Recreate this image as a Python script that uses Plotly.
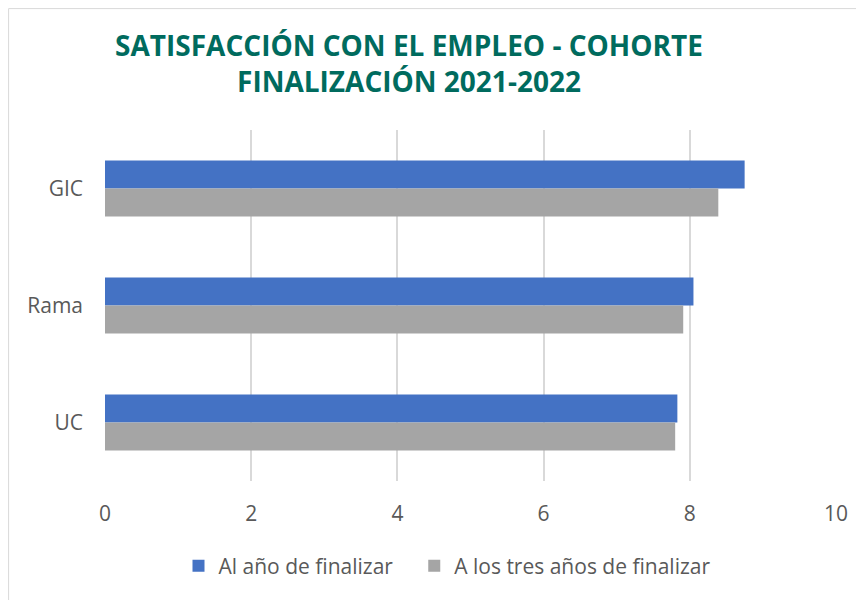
import plotly.graph_objects as go

categories = ["GIC", "Rama", "UC"]
al_anio = [8.75, 8.05, 7.83]
tres_anios = [8.39, 7.91, 7.80]
series_names = ["Al año de finalizar", "A los tres años de finalizar"]
x_ticks = [0, 2, 4, 6, 8, 10]

# page body has an 8px margin; work in screen pixels and offset
OFF = 8
W, H = 864 - OFF, 600 - OFF
L, R, T, B = 105 - OFF, 28, 130 - OFF, 119
pw, ph = W - L - R, H - T - B

def px_x(p):
    return (p - OFF - L) / pw

def px_y(p):
    return (H - B - (p - OFF)) / ph

fig = go.Figure()
fig.add_trace(go.Bar(y=categories, x=al_anio, orientation="h",
                     name=series_names[0] + "\u00a0" * 3,
                     marker=dict(color="#4472C4", line=dict(width=0))))
fig.add_trace(go.Bar(y=categories, x=tres_anios, orientation="h", name=series_names[1],
                     marker=dict(color="#A5A5A5", line=dict(width=0))))

tick_font = dict(family="Open Sans, sans-serif", size=21, color="#595959")
fig.update_layout(
    width=W, height=H,
    margin=dict(l=L, r=R, t=T, b=B),
    paper_bgcolor="white", plot_bgcolor="white",
    barmode="group", bargap=0.52, bargroupgap=0,
    title=dict(
        text="<b>SATISFACCIÓN CON EL EMPLEO - COHORTE<br>FINALIZACIÓN 2021-2022</b>",
        x=(409 - OFF) / W, xanchor="center",
        y=1 - (56 - OFF) / H, yanchor="middle",
        xref="container", yref="container",
        font=dict(family="Open Sans, sans-serif", size=28, color="#006B5E"),
    ),
    xaxis=dict(range=[0, 10], tickvals=x_ticks, showgrid=True, gridcolor="#D9D9D9",
               gridwidth=1.5, zeroline=False, showline=False, ticks="",
               ticklabelstandoff=18, tickfont=tick_font),
    yaxis=dict(autorange="reversed", showgrid=False, showline=False, ticks="",
               ticklen=0, ticklabelstandoff=21, tickfont=tick_font),
    legend=dict(orientation="h", x=px_x(447), xanchor="center", y=px_y(566), yanchor="middle",
                font=tick_font, traceorder="normal", itemwidth=30),
    shapes=[dict(type="rect", xref="paper", yref="paper",
                 x0=-L / pw + 0.6 / pw, x1=px_x(880), y0=px_y(620), y1=1 + (T - 0.6) / ph,
                 line=dict(color="#D9D9D9", width=1), fillcolor="rgba(0,0,0,0)", layer="below")],
)

fig.write_html("out.html")
